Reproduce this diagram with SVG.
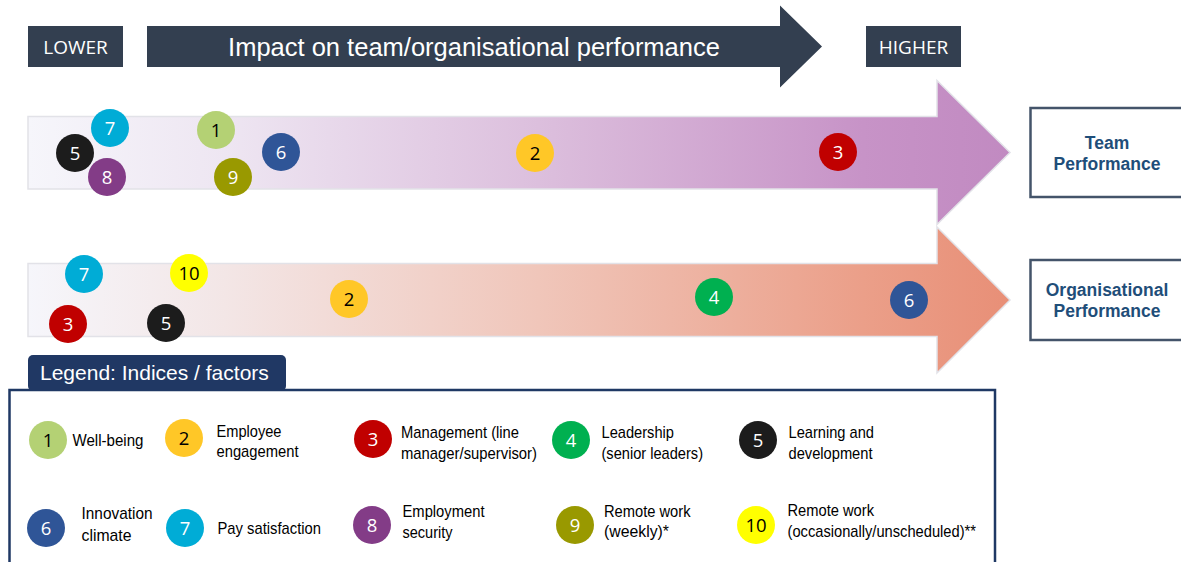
<svg xmlns="http://www.w3.org/2000/svg" width="1181" height="562" viewBox="0 0 1181 562">
<defs>
<linearGradient id="gTeam" gradientUnits="userSpaceOnUse" x1="28" y1="0" x2="1010" y2="0">
<stop offset="0" stop-color="#f6f6fb"/>
<stop offset="0.2" stop-color="#eee6f2"/>
<stop offset="0.52" stop-color="#dcbfdd"/>
<stop offset="0.85" stop-color="#c793c7"/>
<stop offset="1" stop-color="#c18ac1"/>
</linearGradient>
<linearGradient id="gOrg" gradientUnits="userSpaceOnUse" x1="28" y1="0" x2="1010" y2="0">
<stop offset="0" stop-color="#f6f6fb"/>
<stop offset="0.2" stop-color="#f3e6e6"/>
<stop offset="0.52" stop-color="#f0c6ba"/>
<stop offset="0.85" stop-color="#eb9f89"/>
<stop offset="1" stop-color="#e88f77"/>
</linearGradient>
</defs>
<style>
.hdr{fill:#333f50}
.hdrT{fill:#ffffff;font-family:"Open Sans","Liberation Sans",sans-serif;font-size:19px;text-anchor:middle}
.imp{fill:#ffffff;font-family:"Liberation Sans",Arial,sans-serif;font-size:25.5px;text-anchor:middle}
.band{stroke:#e2e2e8;stroke-width:1.5}
.perf{fill:#ffffff;stroke:#44546a;stroke-width:2.5}
.perfT{fill:#1f4e79;font-family:"Liberation Sans",Arial,sans-serif;font-size:17.5px;font-weight:bold;text-anchor:middle}
.num{font-family:"Open Sans","Liberation Sans",sans-serif;font-size:18.5px;text-anchor:middle}
.w{fill:#ffffff}
.k{fill:#000000}
.lg{fill:#000000;font-family:"Liberation Sans",Arial,sans-serif;font-size:17px}
.c1{fill:#b4d174}.c2{fill:#ffc727}.c3{fill:#c00000}.c4{fill:#00b050}.c5{fill:#1c1c1c}
.c6{fill:#2f5597}.c7{fill:#00acd6}.c8{fill:#833c87}.c9{fill:#999900}.c10{fill:#ffff00}
</style>

<!-- header -->
<g id="lower">
<rect class="hdr" x="28" y="26" width="95" height="41"/>
<text class="hdrT" x="75.5" y="54">LOWER</text>
</g>
<g id="impact">
<polygon class="hdr" points="147,26 780,26 780,5.5 822,46.5 780,87.5 780,67 147,67"/>
<text class="imp" x="474" y="56">Impact on team/organisational performance</text>
</g>
<g id="higher">
<rect class="hdr" x="866" y="26" width="95" height="41"/>
<text class="hdrT" x="913.5" y="54">HIGHER</text>
</g>

<!-- band arrows -->
<g id="connectors">
<polygon class="band" fill="url(#gTeam)" points="28,116.5 937,116.5 937,80.5 1010,152.5 937,224.5 937,189 28,189"/>
<polygon class="band" fill="url(#gOrg)" points="28,263.5 937,263.5 937,227 1010,300 937,373 937,336.5 28,336.5"/>
</g>

<!-- outcome boxes -->
<g id="team-performance">
<rect class="perf" x="1030.5" y="108" width="160" height="89"/>
<text class="perfT" x="1107" y="149">Team</text>
<text class="perfT" x="1107" y="170">Performance</text>
</g>
<g id="org-performance">
<rect class="perf" x="1030.5" y="260" width="160" height="80"/>
<text class="perfT" x="1107" y="296">Organisational</text>
<text class="perfT" x="1107" y="317">Performance</text>
</g>

<!-- team band markers -->
<g id="team-7"><circle class="c7" cx="110" cy="128" r="19"/><text class="num w" x="110" y="134.5">7</text></g>
<g id="team-5"><circle class="c5" cx="75" cy="153" r="19"/><text class="num w" x="75" y="159.5">5</text></g>
<g id="team-8"><circle class="c8" cx="107" cy="177" r="19"/><text class="num w" x="107" y="183.5">8</text></g>
<g id="team-1"><circle class="c1" cx="216" cy="130" r="19"/><text class="num k" x="216" y="136.5">1</text></g>
<g id="team-9"><circle class="c9" cx="233" cy="177" r="19"/><text class="num w" x="233" y="183.5">9</text></g>
<g id="team-6"><circle class="c6" cx="281" cy="152" r="19"/><text class="num w" x="281" y="158.5">6</text></g>
<g id="team-2"><circle class="c2" cx="535" cy="153" r="19"/><text class="num k" x="535" y="159.5">2</text></g>
<g id="team-3"><circle class="c3" cx="838" cy="152" r="19"/><text class="num w" x="838" y="158.5">3</text></g>

<!-- organisational band markers -->
<g id="org-7"><circle class="c7" cx="84" cy="274" r="19"/><text class="num w" x="84" y="280.5">7</text></g>
<g id="org-10"><circle class="c10" cx="189" cy="273" r="19"/><text class="num k" x="189" y="279.5">10</text></g>
<g id="org-2"><circle class="c2" cx="349" cy="299" r="19"/><text class="num k" x="349" y="305.5">2</text></g>
<g id="org-3"><circle class="c3" cx="68" cy="324" r="19"/><text class="num w" x="68" y="330.5">3</text></g>
<g id="org-5"><circle class="c5" cx="166" cy="323" r="19"/><text class="num w" x="166" y="329.5">5</text></g>
<g id="org-4"><circle class="c4" cx="714" cy="297" r="19"/><text class="num w" x="714" y="303.5">4</text></g>
<g id="org-6"><circle class="c6" cx="909" cy="300" r="19"/><text class="num w" x="909" y="306.5">6</text></g>

<!-- legend -->
<g id="legend">
<rect x="9.5" y="390" width="985.5" height="190" fill="#ffffff" stroke="#1f3864" stroke-width="2.5"/>
<rect x="28" y="355" width="258" height="36" rx="5" fill="#203864"/>
<text x="40" y="380" fill="#ffffff" font-family="Liberation Sans, Arial, sans-serif" font-size="21">Legend: Indices / factors</text>
</g>
<g id="legend-1"><circle class="c1" cx="48" cy="440" r="19"/><text class="num k" x="48" y="446.5">1</text>
<text class="lg" x="72.5" y="445.5" textLength="71" lengthAdjust="spacingAndGlyphs">Well-being</text></g>
<g id="legend-2"><circle class="c2" cx="184" cy="438" r="19"/><text class="num k" x="184" y="444.5">2</text>
<text class="lg" x="216.5" y="436.5" textLength="65" lengthAdjust="spacingAndGlyphs">Employee</text>
<text class="lg" x="216.5" y="457" textLength="82" lengthAdjust="spacingAndGlyphs">engagement</text></g>
<g id="legend-3"><circle class="c3" cx="373" cy="439" r="19"/><text class="num w" x="373" y="445.5">3</text>
<text class="lg" x="401" y="437.5" textLength="118" lengthAdjust="spacingAndGlyphs">Management (line</text>
<text class="lg" x="401" y="458.5" textLength="136" lengthAdjust="spacingAndGlyphs">manager/supervisor)</text></g>
<g id="legend-4"><circle class="c4" cx="571" cy="440" r="19"/><text class="num w" x="571" y="446.5">4</text>
<text class="lg" x="601.5" y="438" textLength="72.5" lengthAdjust="spacingAndGlyphs">Leadership</text>
<text class="lg" x="601.5" y="459" textLength="101.5" lengthAdjust="spacingAndGlyphs">(senior leaders)</text></g>
<g id="legend-5"><circle class="c5" cx="758" cy="440" r="19"/><text class="num w" x="758" y="446.5">5</text>
<text class="lg" x="788.5" y="438" textLength="85.5" lengthAdjust="spacingAndGlyphs">Learning and</text>
<text class="lg" x="788.5" y="459" textLength="84" lengthAdjust="spacingAndGlyphs">development</text></g>
<g id="legend-6"><circle class="c6" cx="46" cy="528" r="19"/><text class="num w" x="46" y="534.5">6</text>
<text class="lg" x="81.5" y="519" textLength="71" lengthAdjust="spacingAndGlyphs">Innovation</text>
<text class="lg" x="81.5" y="540.5" textLength="50" lengthAdjust="spacingAndGlyphs">climate</text></g>
<g id="legend-7"><circle class="c7" cx="185" cy="528" r="19"/><text class="num w" x="185" y="534.5">7</text>
<text class="lg" x="217.5" y="534" textLength="103.5" lengthAdjust="spacingAndGlyphs">Pay satisfaction</text></g>
<g id="legend-8"><circle class="c8" cx="372" cy="525" r="19"/><text class="num w" x="372" y="531.5">8</text>
<text class="lg" x="402.5" y="516.5" textLength="82" lengthAdjust="spacingAndGlyphs">Employment</text>
<text class="lg" x="402.5" y="538" textLength="50" lengthAdjust="spacingAndGlyphs">security</text></g>
<g id="legend-9"><circle class="c9" cx="575" cy="525" r="19"/><text class="num w" x="575" y="531.5">9</text>
<text class="lg" x="604" y="516.5" textLength="86.5" lengthAdjust="spacingAndGlyphs">Remote work</text>
<text class="lg" x="604" y="537" textLength="65" lengthAdjust="spacingAndGlyphs">(weekly)*</text></g>
<g id="legend-10"><circle class="c10" cx="756" cy="525" r="19"/><text class="num k" x="756" y="531.5">10</text>
<text class="lg" x="787.5" y="515.5" textLength="86.5" lengthAdjust="spacingAndGlyphs">Remote work</text>
<text class="lg" x="787.5" y="537" textLength="188.5" lengthAdjust="spacingAndGlyphs">(occasionally/unscheduled)**</text></g>
</svg>
